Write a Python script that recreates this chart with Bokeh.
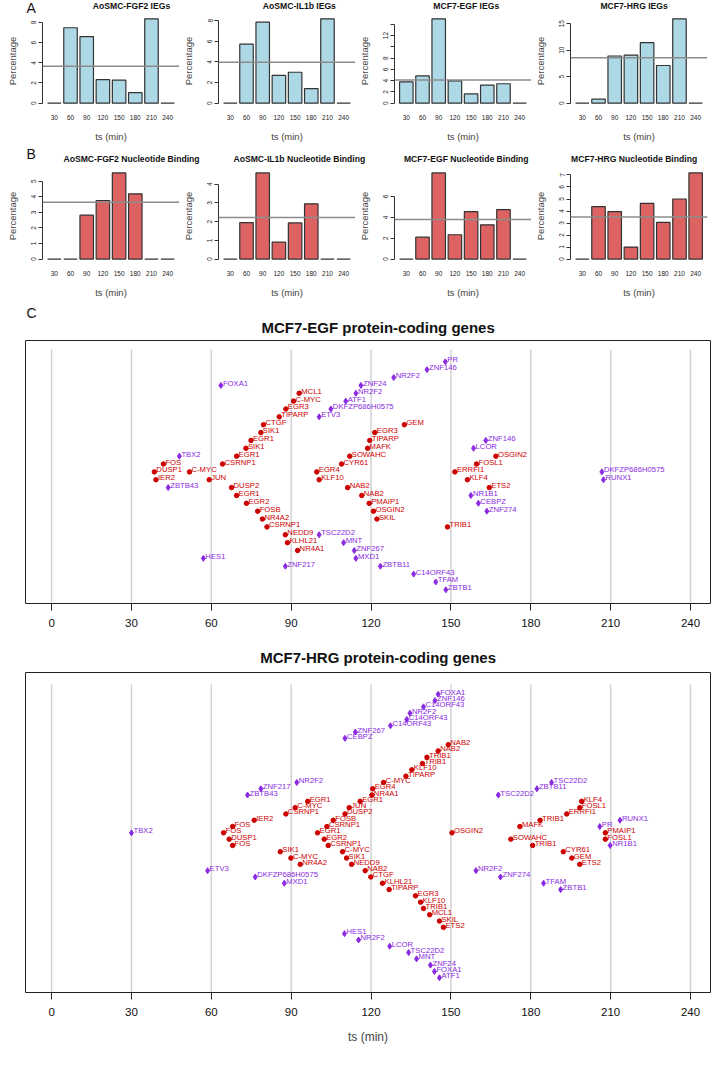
from bokeh.plotting import figure
from bokeh.models import Range1d, FixedTicker, Span
from bokeh.layouts import column, row
from bokeh.embed import file_html
from bokeh.resources import INLINE
from bokeh.core.properties import value

FONT = "Liberation Sans"
RED = "#CD0000"
PURPLE = "#8A2BE2"

# ---------------- bar chart data ----------------
ts = [30, 60, 90, 120, 150, 180, 210, 240]

ieg_titles = ["AoSMC-FGF2 IEGs", "AoSMC-IL1b IEGs", "MCF7-EGF IEGs", "MCF7-HRG IEGs"]
ieg_aosmc_fgf2 = [0, 7.48, 6.60, 2.34, 2.28, 1.04, 8.36, 0]
ieg_aosmc_il1b = [0, 5.72, 7.86, 2.70, 3.00, 1.41, 8.18, 0]
ieg_mcf7_egf = [3.79, 4.83, 14.97, 3.96, 1.63, 3.20, 3.44, 0]
ieg_mcf7_hrg = [0, 0.74, 8.89, 9.07, 11.40, 7.10, 15.90, 0]
ieg_means = [3.67, 3.96, 4.10, 8.58]
ieg_yticks = [[0, 2, 4, 6, 8], [0, 2, 4, 6, 8], [0, 2, 4, 6, 8, 10, 12, 14], [0, 5, 10, 15]]
ieg_hidden = [[], [], [10, 14], []]

nb_titles = ["AoSMC-FGF2 Nucleotide Binding", "AoSMC-IL1b Nucleotide Binding",
             "MCF7-EGF Nucleotide Binding", "MCF7-HRG Nucleotide Binding"]
nb_aosmc_fgf2 = [0, 0, 2.82, 3.76, 5.53, 4.19, 0, 0]
nb_aosmc_il1b = [0, 1.95, 4.60, 0.90, 1.93, 2.95, 0, 0]
nb_mcf7_egf = [0, 2.10, 8.26, 2.33, 4.55, 3.28, 4.75, 0]
nb_mcf7_hrg = [0, 4.36, 3.95, 1.00, 4.63, 3.05, 5.00, 7.17]
nb_means = [3.65, 2.22, 3.80, 3.50]
nb_yticks = [[0, 1, 2, 3, 4, 5], [0, 1, 2, 3, 4], [0, 2, 4, 6], [0, 1, 2, 3, 4, 5, 6, 7]]
nb_hidden = [[], [], [], []]

# ---------------- gene timeline data (time in min, row from top) ----------------
egf_red_genes = ["MCL1", "C-MYC", "EGR3", "TIPARP", "CTGF", "GEM", "SIK1", "EGR3", "EGR1", "TIPARP",
                 "SIK1", "MAFK", "EGR1", "SOWAHC", "OSGIN2", "CSRNP1", "FOS", "CYR61", "FOSL1",
                 "DUSP1", "C-MYC", "EGR4", "ERRFI1", "IER2", "JUN", "KLF10", "KLF4", "DUSP2", "NAB2",
                 "ETS2", "EGR1", "NAB2", "EGR2", "PMAIP1", "FOSB", "OSGIN2", "NR4A2", "SKIL",
                 "CSRNP1", "TRIB1", "NEDD9", "KLHL21", "NR4A1"]
egf_red_time = [93.0, 90.9, 88.0, 85.5, 79.6, 132.5, 78.6, 121.4, 74.9, 119.5,
                73.0, 118.7, 69.5, 112.0, 166.9, 64.2, 42.0, 108.9, 159.6,
                38.6, 51.8, 99.6, 151.5, 39.2, 59.2, 100.5, 156.2, 67.6, 111.2,
                164.4, 69.5, 116.5, 73.2, 119.3, 77.4, 120.9, 79.2, 122.2,
                80.9, 148.7, 87.8, 88.6, 92.4]
egf_red_row = [4, 5, 6, 7, 8, 8, 9, 9, 10, 10,
               11, 11, 12, 12, 12, 13, 13, 13, 13,
               14, 14, 14, 14, 15, 15, 15, 15, 16, 16,
               16, 17, 17, 18, 18, 19, 19, 20, 20,
               21, 21, 22, 23, 24]

egf_purple_genes = ["PR", "ZNF146", "NR2F2", "FOXA1", "ZNF24", "NR2F2", "ATF1", "DKFZP686H0575",
                    "ETV3", "ZNF146", "LCOR", "TBX2", "DKFZP686H0575", "RUNX1", "ZBTB43", "NR1B1",
                    "CEBPZ", "ZNF274", "TSC22D2", "MNT", "ZNF267", "HES1", "MXD1", "ZNF217",
                    "ZBTB11", "C14ORF43", "TFAM", "ZBTB1"]
egf_purple_time = [147.9, 141.0, 128.5, 63.6, 116.2, 114.3, 110.5, 104.9,
                   100.5, 163.1, 158.5, 48.0, 206.7, 207.3, 43.8, 157.5,
                   160.3, 163.5, 100.5, 109.7, 113.7, 57.0, 114.3, 87.8,
                   123.5, 136.0, 144.3, 148.1]
egf_purple_row = [0, 1, 2, 3, 3, 4, 5, 6,
                  7, 10, 11, 12, 14, 15, 16, 17,
                  18, 19, 22, 23, 24, 25, 25, 26,
                  26, 27, 28, 29]

hrg_red_genes = ["NAB2", "NAB2", "TRIB1", "TRIB1", "KLF10", "TIPARP", "C-MYC", "EGR4", "NR4A1",
                 "EGR1", "JUN", "DUSP2", "FOSB", "CSRNP1", "EGR1", "EGR2", "CSRNP1", "C-MYC",
                 "SIK1", "NEDD9", "NAB2", "CTGF", "KLHL21", "TIPARP", "EGR3", "KLF10", "TRIB1",
                 "MCL1", "SKIL", "ETS2",
                 "EGR1", "C-MYC", "CSRNP1", "IER2", "FOS", "FOS", "DUSP1", "FOS", "SIK1",
                 "C-MYC", "NR4A2",
                 "KLF4", "FOSL1", "ERRFI1", "TRIB1", "MAFK", "OSGIN2", "PMAIP1", "SOWAHC",
                 "FOSL1", "TRIB1", "CYR61", "GEM", "ETS2"]
hrg_red_time = [149.0, 145.2, 141.0, 139.3, 135.3, 133.1, 124.7, 120.6, 120.3,
                115.9, 111.8, 110.2, 105.8, 103.4, 99.9, 102.4, 103.9, 109.3,
                110.8, 112.7, 117.8, 119.9, 124.3, 126.8, 136.7, 138.6, 139.7,
                142.0, 145.7, 147.2,
                96.2, 91.5, 88.0, 76.1, 68.0, 64.6, 66.7, 68.0, 85.9,
                89.9, 93.4,
                199.1, 198.4, 193.5, 183.5, 175.9, 150.4, 208.0, 172.5,
                208.0, 180.7, 192.2, 195.4, 198.4]
hrg_red_row = [8, 9, 10, 11, 12, 13, 14, 15, 16,
               17, 18, 19, 20, 21, 22, 23, 24, 25,
               26, 27, 28, 29, 30, 31, 32, 33, 34,
               35, 36, 37,
               17, 18, 19, 20, 21, 22, 23, 24, 25,
               26, 27,
               17, 18, 19, 20, 21, 22, 22, 23,
               23, 24, 25, 26, 27]

hrg_purple_genes = ["FOXA1", "ZNF146", "C14ORF43", "NR2F2", "C14ORF43", "C14ORF43", "ZNF267", "CEBPZ",
                    "NR2F2", "ZNF217", "ZBTB43", "TBX2", "ETV3", "DKFZP686H0575", "MXD1",
                    "TSC22D2", "ZBTB11", "TSC22D2", "RUNX1", "PR", "NR1B1", "NR2F2", "ZNF274",
                    "TFAM", "ZBTB1", "HES1", "NR2F2", "LCOR", "TSC22D2", "MNT", "ZNF24", "FOXA1",
                    "ATF1"]
hrg_purple_time = [145.2, 144.0, 139.7, 134.6, 133.4, 127.3, 114.1, 110.2,
                   92.1, 78.6, 73.6, 30.0, 58.6, 76.5, 87.4,
                   187.8, 182.3, 167.8, 213.5, 205.9, 209.8, 159.4, 168.6,
                   184.8, 191.2, 110.0, 115.3, 127.0, 134.1, 137.1, 142.3, 143.8,
                   145.7]
hrg_purple_row = [0, 1, 2, 3, 4, 5, 6, 7,
                  14, 15, 16, 22, 28, 29, 30,
                  14, 15, 16, 20, 21, 24, 28, 29,
                  30, 31, 38, 39, 40, 41, 42, 43, 44,
                  45]

time_ticks = [0, 30, 60, 90, 120, 150, 180, 210, 240]

BAR_FW = 137
mbls = [42, 38, 37, 38]
mbrs = [0, 0, 0, 8]
ROW_W = sum(mbls) + sum(mbrs) + 4 * BAR_FW
GENE_FW = 685
GENE_W = 25 + GENE_FW + 4


def strip(width, height):
    s = figure(title=None, width=width, height=height, x_range=Range1d(0, width),
               y_range=Range1d(height, 0), x_axis_type=None, y_axis_type=None,
               output_backend="svg", toolbar_location=None,
               min_border_left=0, min_border_right=0, min_border_top=0, min_border_bottom=0)
    s.outline_line_color = None
    s.grid.visible = False
    return s


def bar_header(letter, titles, letter_y, title_y, height):
    s = strip(ROW_W, height)
    centers = []
    left = 0
    for i in range(4):
        centers.append(left + mbls[i] + BAR_FW / 2)
        left += mbls[i] + BAR_FW + mbrs[i]
    s.text(x=centers, y=[title_y] * 4, text=titles, text_font=value(FONT),
           text_font_size=value("8.6px"), text_font_style="bold", text_color="#111111",
           text_align="center", text_baseline="middle")
    s.text(x=[1], y=[letter_y], text=[letter], text_font=value(FONT), text_font_size=value("14px"),
           text_color="#111111", text_align="left", text_baseline="middle")
    return s


def gene_header(letter, title, letter_y, title_y, height):
    s = strip(GENE_W, height)
    s.text(x=[25 + GENE_FW / 2], y=[title_y], text=[title], text_font=value(FONT),
           text_font_size=value("15px"), text_font_style="bold", text_color="#111111",
           text_align="center", text_baseline="middle")
    if letter:
        s.text(x=[1], y=[letter_y], text=[letter], text_font=value(FONT), text_font_size=value("14px"),
               text_color="#111111", text_align="left", text_baseline="middle")
    return s


def bar_panel(vals, mean, yticks, hidden, fill, mbl, mbr, mbb, fh):
    M = max(vals)
    p = figure(title=None, frame_width=BAR_FW, frame_height=fh,
               x_range=Range1d(8.1, 261.9), y_range=Range1d(-0.04 * M, 1.04 * M),
               output_backend="svg", toolbar_location=None,
               min_border_left=mbl, min_border_right=mbr,
               min_border_top=0, min_border_bottom=mbb)
    p.outline_line_color = None
    p.grid.visible = False
    p.vbar(x=ts, top=vals, bottom=0, width=25, fill_color=fill,
           line_color="#333333", line_width=1.2)
    p.add_layout(Span(location=mean, dimension="width", line_color="#8c8c8c", line_width=1.5))

    xa = p.xaxis[0]
    xa.ticker = FixedTicker(ticks=ts)
    xa.axis_line_color = None
    xa.major_tick_line_color = None
    xa.minor_tick_line_color = None
    xa.major_tick_out = 0
    xa.major_tick_in = 0
    xa.major_label_text_font = FONT
    xa.major_label_text_font_size = "6.5px"
    xa.major_label_text_color = "#222222"
    xa.major_label_standoff = 8
    xa.axis_label = "ts (min)"
    xa.axis_label_text_font = FONT
    xa.axis_label_text_font_size = "9.5px"
    xa.axis_label_text_font_style = "normal"
    xa.axis_label_standoff = 8

    ya = p.yaxis[0]
    ya.ticker = FixedTicker(ticks=yticks)
    ya.bounds = (0, yticks[-1])
    ya.minor_tick_line_color = None
    ya.major_tick_out = 4
    ya.major_tick_in = 0
    ya.axis_line_color = "#333333"
    ya.major_tick_line_color = "#333333"
    ya.major_label_orientation = "vertical"
    ya.major_label_text_font = FONT
    ya.major_label_text_font_size = "6.5px"
    ya.major_label_text_color = "#222222"
    ya.major_label_standoff = 2
    ya.major_label_overrides = {h: "" for h in hidden}
    ya.axis_label = "Percentage"
    ya.axis_label_text_font = FONT
    ya.axis_label_text_font_size = "9.5px"
    ya.axis_label_text_font_style = "normal"
    ya.axis_label_standoff = 11
    return p


def gene_panel(rg, rt, rr, pg, pt, pr, y_top, y_bottom, fh, mbb, xlabel):
    p = figure(title=None, frame_width=GENE_FW, frame_height=fh,
               x_range=Range1d(-9.8, 247.5), y_range=Range1d(y_bottom, y_top),
               output_backend="svg", toolbar_location=None,
               min_border_left=25, min_border_right=4,
               min_border_top=0, min_border_bottom=mbb)
    p.grid.visible = False
    p.outline_line_color = "#222222"
    p.outline_line_width = 1
    p.segment(x0=time_ticks, y0=[-1.55] * len(time_ticks), x1=time_ticks,
              y1=[y_bottom] * len(time_ticks), line_color="#d3d3d3", line_width=1.5)
    p.scatter(x=rt, y=rr, marker="circle", size=4.5, fill_color=RED, line_color=RED)
    p.scatter(x=pt, y=pr, marker="diamond", size=6, fill_color=PURPLE, line_color=PURPLE)
    p.text(x=rt, y=rr, text=rg, text_font=value(FONT), text_font_size=value("7.7px"),
           text_color=RED, text_align="left", text_baseline="middle", x_offset=2, y_offset=-2)
    p.text(x=pt, y=pr, text=pg, text_font=value(FONT), text_font_size=value("7.7px"),
           text_color=PURPLE, text_align="left", text_baseline="middle", x_offset=2, y_offset=-2)
    p.yaxis.visible = False
    xa = p.xaxis[0]
    xa.ticker = FixedTicker(ticks=time_ticks)
    xa.bounds = (0, 240)
    xa.axis_line_color = "#222222"
    xa.major_tick_line_color = "#222222"
    xa.minor_tick_line_color = None
    xa.major_tick_out = 7
    xa.major_tick_in = 0
    xa.major_label_text_font = FONT
    xa.major_label_text_font_size = "11.5px"
    xa.major_label_text_color = "#111111"
    xa.major_label_standoff = 8
    if xlabel:
        xa.axis_label = xlabel
        xa.axis_label_text_font = FONT
        xa.axis_label_text_font_size = "12px"
        xa.axis_label_text_font_style = "normal"
        xa.axis_label_standoff = 11
    return p


ieg_vals = [ieg_aosmc_fgf2, ieg_aosmc_il1b, ieg_mcf7_egf, ieg_mcf7_hrg]
nb_vals = [nb_aosmc_fgf2, nb_aosmc_il1b, nb_mcf7_egf, nb_mcf7_hrg]

row_a = [bar_panel(ieg_vals[i], ieg_means[i], ieg_yticks[i], ieg_hidden[i], "#ADD8E6",
                   mbls[i], mbrs[i], 38, 91) for i in range(4)]
row_b = [bar_panel(nb_vals[i], nb_means[i], nb_yticks[i], nb_hidden[i], "#DD6363",
                   mbls[i], mbrs[i], 38, 93) for i in range(4)]

head_a = bar_header("A", ieg_titles, 7.5, 5.5, 15)
head_b = bar_header("B", nb_titles, 9, 14, 25)
head_c = gene_header("C", "MCF7-EGF protein-coding genes", 12, 27, 40)
head_d = gene_header(None, "MCF7-HRG protein-coding genes", 0, 15, 30)

egf = gene_panel(egf_red_genes, egf_red_time, egf_red_row,
                 egf_purple_genes, egf_purple_time, egf_purple_row,
                 -2.71, 30.74, 263, 39, None)
hrg = gene_panel(hrg_red_genes, hrg_red_time, hrg_red_row,
                 hrg_purple_genes, hrg_purple_time, hrg_purple_row,
                 -3.45, 47.34, 320, 55, "ts (min)")

layout = column(head_a, row(*row_a), head_b, row(*row_b), head_c, egf, head_d, hrg)
open("out.html", "w").write(file_html(layout, INLINE))
